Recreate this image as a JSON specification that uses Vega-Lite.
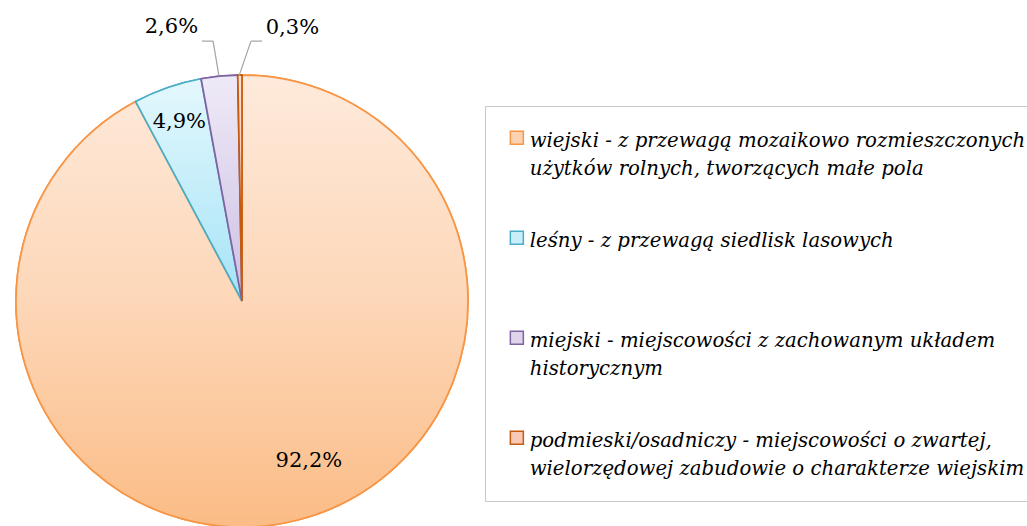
{
  "$schema": "https://vega.github.io/schema/vega-lite/v6.json",
  "width": 484,
  "height": 450,
  "autosize": {"type": "none"},
  "padding": {"left": 0, "top": 76, "right": 543, "bottom": 0},
  "background": "#FFFFFF",
  "config": {"view": {"stroke": null}},
  "data": {
    "values": [
      {"typ": "wiejski - z przewagą mozaikowo rozmieszczonych użytków rolnych, tworzących małe pola", "udzial": 92.2, "etykieta": "92,2%", "kolejnosc": 1},
      {"typ": "leśny - z przewagą siedlisk lasowych", "udzial": 4.9, "etykieta": "4,9%", "kolejnosc": 2},
      {"typ": "miejski - miejscowości z zachowanym układem historycznym", "udzial": 2.6, "etykieta": "2,6%", "kolejnosc": 3},
      {"typ": "podmieski/osadniczy - miejscowości o zwartej, wielorzędowej zabudowie o charakterze wiejskim", "udzial": 0.3, "etykieta": "0,3%", "kolejnosc": 4}
    ]
  },
  "layer": [
    {
      "mark": {"type": "arc", "radius": 226, "strokeWidth": 1.75},
      "encoding": {
        "theta": {"field": "udzial", "type": "quantitative", "stack": true},
        "order": {"field": "kolejnosc", "type": "quantitative", "sort": "ascending"},
        "fill": {
          "field": "typ", "type": "nominal",
          "scale": {
            "domain": [
              "wiejski - z przewagą mozaikowo rozmieszczonych użytków rolnych, tworzących małe pola",
              "leśny - z przewagą siedlisk lasowych",
              "miejski - miejscowości z zachowanym układem historycznym",
              "podmieski/osadniczy - miejscowości o zwartej, wielorzędowej zabudowie o charakterze wiejskim"
            ],
            "range": ["#FCD2B0", "#C8EEF9", "#DDD4EC", "#F8C9B5"]
          },
          "legend": {
            "orient": "none", "legendX": 485, "legendY": 30,
            "title": null,
            "padding": 22, "strokeColor": "#C8C8C8", "fillColor": "#FFFFFF",
            "symbolType": "square", "symbolSize": 169, "symbolStrokeWidth": 1.5,
            "labelFont": "DejaVu Serif", "labelFontStyle": "italic", "labelFontSize": 19.7, "labelColor": "#000000",
            "labelLimit": 800, "labelOffset": 3, "labelBaseline": "alphabetic",
            "rowPadding": 49,
            "labelExpr": "split(replace(replace(replace(replace(datum.label, ' użytków', '|użytków'), ' historycznym', '|historycznym'), ' wielorzędowej', '|wielorzędowej'), ' lasowych', ' lasowych|'), '|')",
            "encode": {"labels": {"update": {"lineHeight": {"value": 28}, "dy": {"value": 9}}}}
          }
        },
        "stroke": {
          "field": "typ", "type": "nominal",
          "scale": {
            "domain": [
              "wiejski - z przewagą mozaikowo rozmieszczonych użytków rolnych, tworzących małe pola",
              "leśny - z przewagą siedlisk lasowych",
              "miejski - miejscowości z zachowanym układem historycznym",
              "podmieski/osadniczy - miejscowości o zwartej, wielorzędowej zabudowie o charakterze wiejskim"
            ],
            "range": ["#F79646", "#4BACC6", "#8064A2", "#C55A11"]
          },
          "legend": {
            "orient": "none", "legendX": 485, "legendY": 30,
            "title": null,
            "padding": 22, "strokeColor": "#C8C8C8", "fillColor": "#FFFFFF",
            "symbolType": "square", "symbolSize": 169, "symbolStrokeWidth": 1.5,
            "labelFont": "DejaVu Serif", "labelFontStyle": "italic", "labelFontSize": 19.7, "labelColor": "#000000",
            "labelLimit": 800, "labelOffset": 3, "labelBaseline": "alphabetic",
            "rowPadding": 49,
            "labelExpr": "split(replace(replace(replace(replace(datum.label, ' użytków', '|użytków'), ' historycznym', '|historycznym'), ' wielorzędowej', '|wielorzędowej'), ' lasowych', ' lasowych|'), '|')",
            "encode": {"labels": {"update": {"lineHeight": {"value": 28}, "dy": {"value": 9}}}}
          }
        }
      }
    },
    {
      "mark": {"type": "arc", "radius": 226, "strokeWidth": 1.75},
      "encoding": {
        "theta": {"field": "udzial", "type": "quantitative", "stack": true},
        "order": {"field": "kolejnosc", "type": "quantitative", "sort": "ascending"},
        "fill": {
          "condition": [
            {"test": "datum.kolejnosc == 1", "value": {"gradient": "linear", "x1": 0, "y1": 0, "x2": 0, "y2": 1, "stops": [{"offset": 0, "color": "#FEEADB"}, {"offset": 0.5, "color": "#FDD7B8"}, {"offset": 1, "color": "#FBBC86"}]}},
            {"test": "datum.kolejnosc == 2", "value": {"gradient": "linear", "x1": 0, "y1": 0, "x2": 0, "y2": 1, "stops": [{"offset": 0, "color": "#E4F8FD"}, {"offset": 1, "color": "#A5E3F6"}]}},
            {"test": "datum.kolejnosc == 3", "value": {"gradient": "linear", "x1": 0, "y1": 0, "x2": 0, "y2": 1, "stops": [{"offset": 0, "color": "#EFEAF7"}, {"offset": 1, "color": "#CDC0E4"}]}}
          ],
          "value": {"gradient": "linear", "x1": 0, "y1": 0, "x2": 0, "y2": 1, "stops": [{"offset": 0, "color": "#FBE2D6"}, {"offset": 1, "color": "#F5B59A"}]}
        },
        "stroke": {"field": "typ", "type": "nominal", "legend": null}
      }
    },
    {
      "mark": {"type": "text", "radius": 173, "dx": 25, "dy": -8, "font": "DejaVu Serif", "fontSize": 21, "color": "#000000"},
      "encoding": {
        "theta": {"field": "udzial", "type": "quantitative", "stack": true},
        "order": {"field": "kolejnosc", "type": "quantitative", "sort": "ascending"},
        "text": {"condition": {"test": "datum.kolejnosc == 1", "field": "etykieta", "type": "nominal"}, "value": ""}
      }
    },
    {
      "mark": {"type": "text", "radius": 190, "font": "DejaVu Serif", "fontSize": 21, "color": "#000000"},
      "encoding": {
        "theta": {"field": "udzial", "type": "quantitative", "stack": true},
        "order": {"field": "kolejnosc", "type": "quantitative", "sort": "ascending"},
        "text": {"condition": {"test": "datum.kolejnosc == 2", "field": "etykieta", "type": "nominal"}, "value": ""}
      }
    },
    {
      "mark": {"type": "text", "radius": 275, "dx": -43, "font": "DejaVu Serif", "fontSize": 21, "color": "#000000"},
      "encoding": {
        "theta": {"field": "udzial", "type": "quantitative", "stack": true},
        "order": {"field": "kolejnosc", "type": "quantitative", "sort": "ascending"},
        "text": {"condition": {"test": "datum.kolejnosc == 3", "field": "etykieta", "type": "nominal"}, "value": ""}
      }
    },
    {
      "mark": {"type": "text", "radius": 273, "dx": 53, "font": "DejaVu Serif", "fontSize": 21, "color": "#000000"},
      "encoding": {
        "theta": {"field": "udzial", "type": "quantitative", "stack": true},
        "order": {"field": "kolejnosc", "type": "quantitative", "sort": "ascending"},
        "text": {"condition": {"test": "datum.kolejnosc == 4", "field": "etykieta", "type": "nominal"}, "value": ""}
      }
    },
    {
      "data": {"values": [{}]},
      "mark": {"type": "rule", "color": "#A6A6A6", "strokeWidth": 1.25},
      "encoding": {
        "x": {"datum": -0.177, "type": "quantitative", "scale": {"domain": [-1.0708, 1.0708], "nice": false, "zero": false}, "axis": null},
        "y": {"datum": 1.15, "type": "quantitative", "scale": {"domain": [-0.9956, 0.9956], "nice": false, "zero": false}, "axis": null},
        "x2": {"datum": -0.128},
        "y2": {"datum": 1.15}
      }
    },
    {
      "data": {"values": [{}]},
      "mark": {"type": "rule", "color": "#A6A6A6", "strokeWidth": 1.25},
      "encoding": {
        "x": {"datum": -0.128, "type": "quantitative"},
        "y": {"datum": 1.15, "type": "quantitative"},
        "x2": {"datum": -0.102},
        "y2": {"datum": 0.996}
      }
    },
    {
      "data": {"values": [{}]},
      "mark": {"type": "rule", "color": "#A6A6A6", "strokeWidth": 1.25},
      "encoding": {
        "x": {"datum": 0.0885, "type": "quantitative"},
        "y": {"datum": 1.15, "type": "quantitative"},
        "x2": {"datum": 0.0398},
        "y2": {"datum": 1.15}
      }
    },
    {
      "data": {"values": [{}]},
      "mark": {"type": "rule", "color": "#A6A6A6", "strokeWidth": 1.25},
      "encoding": {
        "x": {"datum": 0.0398, "type": "quantitative"},
        "y": {"datum": 1.15, "type": "quantitative"},
        "x2": {"datum": -0.0133},
        "y2": {"datum": 0.996}
      }
    }
  ]
}
